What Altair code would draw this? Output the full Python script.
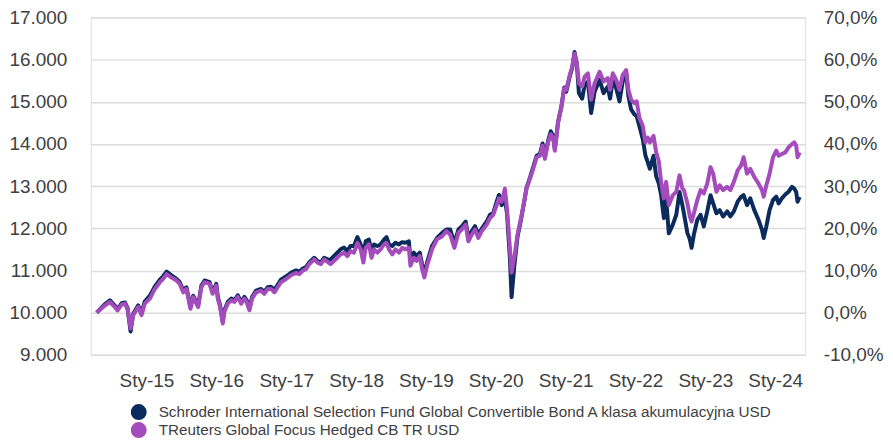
import altair as alt
import pandas as pd

FUND = "Schroder International Selection Fund Global Convertible Bond A klasa akumulacyjna USD"
BENCH = "TReuters Global Focus Hedged CB TR USD"
NAVY = "#0b2b5c"
PURPLE = "#a54cbd"

dates = [
    "2014-04-16", "2014-05-29", "2014-06-24", "2014-07-20", "2014-08-03", "2014-08-24",
    "2014-09-10", "2014-09-24", "2014-10-10", "2014-10-24", "2014-11-19", "2014-12-06",
    "2014-12-23", "2015-01-19", "2015-02-14", "2015-03-12", "2015-03-29", "2015-04-16",
    "2015-05-12", "2015-06-07", "2015-06-24", "2015-07-12", "2015-07-29", "2015-08-19",
    "2015-09-02", "2015-09-19", "2015-09-28", "2015-10-15", "2015-11-01", "2015-11-27",
    "2015-12-05", "2015-12-13", "2016-01-01", "2016-01-09", "2016-01-21", "2016-02-04",
    "2016-02-12", "2016-03-01", "2016-03-19", "2016-04-05", "2016-04-22", "2016-05-10",
    "2016-05-27", "2016-06-08", "2016-06-22", "2016-07-06", "2016-07-27", "2016-08-22",
    "2016-09-08", "2016-09-26", "2016-10-13", "2016-10-31", "2016-11-17", "2016-12-04",
    "2017-01-01", "2017-01-27", "2017-02-21", "2017-03-10", "2017-03-27", "2017-04-14",
    "2017-05-01", "2017-05-27", "2017-06-13", "2017-07-01", "2017-07-18", "2017-08-10",
    "2017-08-21", "2017-09-16", "2017-10-12", "2017-10-30", "2017-11-16", "2017-12-03",
    "2017-12-21", "2018-01-08", "2018-01-25", "2018-02-08", "2018-02-20", "2018-03-09",
    "2018-03-23", "2018-04-05", "2018-04-22", "2018-05-09", "2018-05-27", "2018-06-09",
    "2018-06-22", "2018-07-09", "2018-07-26", "2018-08-13", "2018-08-30", "2018-09-16",
    "2018-10-04", "2018-10-12", "2018-10-30", "2018-11-13", "2018-11-30", "2018-12-12",
    "2018-12-24", "2019-01-07", "2019-02-02", "2019-02-28", "2019-03-27", "2019-04-18",
    "2019-05-08", "2019-05-30", "2019-06-20", "2019-07-07", "2019-07-28", "2019-08-11",
    "2019-08-29", "2019-09-15", "2019-10-02", "2019-10-20", "2019-11-15", "2019-12-02",
    "2019-12-19", "2020-01-06", "2020-01-18", "2020-02-01", "2020-02-18", "2020-02-29",
    "2020-03-15", "2020-03-24", "2020-04-07", "2020-04-24", "2020-05-12", "2020-05-29",
    "2020-06-10", "2020-06-28", "2020-07-15", "2020-08-02", "2020-08-19", "2020-09-02",
    "2020-09-14", "2020-10-01", "2020-10-15", "2020-10-27", "2020-11-05", "2020-11-22",
    "2020-12-10", "2020-12-24", "2021-01-04", "2021-01-22", "2021-02-04", "2021-02-16",
    "2021-02-28", "2021-03-11", "2021-03-28", "2021-04-10", "2021-04-27", "2021-05-14",
    "2021-06-01", "2021-06-27", "2021-07-18", "2021-08-09", "2021-08-21", "2021-09-04",
    "2021-09-22", "2021-10-09", "2021-10-26", "2021-11-13", "2021-11-25", "2021-12-09",
    "2021-12-26", "2022-01-07", "2022-01-21", "2022-02-08", "2022-02-22", "2022-03-06",
    "2022-03-17", "2022-04-05", "2022-04-19", "2022-05-02", "2022-05-15", "2022-05-29",
    "2022-06-10", "2022-06-24", "2022-07-15", "2022-08-02", "2022-08-19", "2022-09-03",
    "2022-09-11", "2022-09-29", "2022-10-12", "2022-10-21", "2022-11-02", "2022-11-20",
    "2022-12-07", "2022-12-24", "2023-01-11", "2023-01-28", "2023-02-11", "2023-02-28",
    "2023-03-17", "2023-04-04", "2023-04-25", "2023-05-12", "2023-05-30", "2023-06-19",
    "2023-07-07", "2023-07-20", "2023-08-07", "2023-08-24", "2023-09-14", "2023-10-06",
    "2023-10-24", "2023-11-02", "2023-11-16", "2023-12-03", "2023-12-21", "2024-01-07",
    "2024-01-19", "2024-02-05", "2024-02-23", "2024-03-11", "2024-03-29", "2024-04-10",
    "2024-04-20", "2024-04-27", "2024-05-08",
]

bench = [
    10000, 10170, 10250, 10130, 10050, 10190,
    10210, 10090, 9620, 9940, 10130, 9940,
    10210, 10330, 10560, 10720, 10800, 10910,
    10830, 10760, 10680, 10480, 10560, 10090,
    10370, 10210, 10130, 10600, 10720, 10680,
    10560, 10445, 10640, 10330, 10130, 9740,
    10015, 10210, 10290, 10250, 10370, 10210,
    10330, 10250, 10055, 10330, 10480, 10520,
    10445, 10560, 10560, 10480, 10600, 10720,
    10800, 10890, 10940, 10910, 10990, 11030,
    11150, 11260, 11185, 11150, 11260, 11185,
    11150, 11265, 11380, 11420, 11340, 11460,
    11420, 11650, 11500, 11185, 11535, 11615,
    11300, 11500, 11420, 11500, 11615, 11650,
    11500, 11380, 11500, 11420, 11535, 11500,
    11535, 11110, 11300, 11225, 11340, 11030,
    10835, 11110, 11500, 11735, 11810, 11930,
    11850, 11535, 11890, 11970, 12085, 11690,
    11850, 11970, 11770, 11930, 12085, 12240,
    12320, 12550, 12710, 12630, 12940, 12470,
    11535, 10950, 11300, 11850, 12240, 12630,
    12940, 13175, 13410, 13685, 13720, 13960,
    13645, 14035, 14230, 14150, 13840, 14500,
    14890, 15320, 15285, 15635, 15830, 16145,
    15910, 15440, 15360, 15595, 15675, 15050,
    15440, 15710, 15480, 15560, 15285, 15675,
    15520, 15285, 15635, 15750, 15285, 15050,
    14970, 15010, 14620, 14425, 14035, 14150,
    14035, 14190, 13800, 13605, 13100, 12710,
    13100, 12550, 12785, 12860, 13255, 12940,
    12905, 12590, 12280, 12160, 12355, 12670,
    12905, 12825, 13060, 13450, 13295, 12865,
    13020, 12905, 12980, 12905, 13100, 13370,
    13490, 13685, 13295, 13410, 13215, 13060,
    12905, 12750, 13020, 13295, 13685, 13840,
    13720, 13760, 13800, 13920, 13995, 14035,
    13960, 13685, 13800,
]

fund = [
    10000, 10200, 10290, 10160, 10080, 10220,
    10240, 10110, 9550, 9970, 10170, 9980,
    10260, 10400, 10620, 10780, 10860, 10970,
    10880, 10800, 10720, 10530, 10600, 10130,
    10400, 10240, 10160, 10640, 10760, 10720,
    10600, 10480, 10680, 10370, 10170, 9780,
    10050, 10250, 10330, 10290, 10410, 10250,
    10370, 10290, 10090, 10370, 10520, 10560,
    10490, 10600, 10610, 10540, 10660, 10780,
    10860, 10950, 11000, 10960, 11040, 11080,
    11190, 11300, 11220, 11190, 11300, 11250,
    11260, 11380, 11500, 11540, 11460, 11580,
    11580, 11790, 11615, 11340, 11690, 11730,
    11460, 11615, 11580, 11615, 11730, 11790,
    11615, 11580, 11655, 11615, 11670, 11655,
    11690, 11265, 11420, 11340, 11420, 11150,
    10910, 11185, 11580, 11770, 11890, 11970,
    11970, 11650, 11970, 12040, 12160, 11770,
    11930, 12050, 11850, 11990, 12160, 12320,
    12360, 12630, 12790, 12550, 12700, 12350,
    11300, 10365, 11100, 11800, 12200, 12630,
    12960, 13200, 13450, 13720, 13760, 14010,
    13690, 14080, 14300, 14190, 13880, 14520,
    14900, 15340, 15240, 15600, 15800, 16180,
    15900, 15205, 15075, 15400, 15480, 14735,
    15240, 15520, 15205, 15360, 15075, 15520,
    15320, 15010, 15480, 15675, 15130, 14820,
    14700, 14660, 14425, 14110, 13720, 13565,
    13410, 13720, 13230, 13075, 12785, 12240,
    12700, 11880, 12085, 12320, 12860, 12550,
    12355, 11890, 11735, 11535, 11850, 12200,
    12320, 12045, 12400, 12785, 12590, 12355,
    12430, 12280, 12400, 12280, 12400, 12630,
    12745, 12785, 12550, 12710, 12430, 12200,
    11965, 11770, 12045, 12435, 12670, 12750,
    12590, 12710, 12800, 12865, 12980, 12940,
    12860, 12630, 12745,
]

left_ticks = [9000, 10000, 11000, 12000, 13000, 14000, 15000, 16000, 17000]
right_ticks = [-10, 0, 10, 20, 30, 40, 50, 60, 70]
year_ticks = [2015, 2016, 2017, 2018, 2019, 2020, 2021, 2022, 2023, 2024]

n = len(dates)
df = pd.DataFrame({
    "date": dates + dates,
    "series": [FUND] * n + [BENCH] * n,
    "value": fund + bench,
})

FONT = "Liberation Sans"
LABEL_COLOR = "#404040"

x_enc = alt.X(
    "date:T",
    scale=alt.Scale(domain=[alt.DateTime(year=2014, month=3, date=16),
                            alt.DateTime(year=2024, month=6, date=6)]),
    axis=alt.Axis(
        values=[alt.DateTime(year=y, month=1, date=1) for y in year_ticks],
        labelExpr="'Sty-' + timeFormat(datum.value, '%y')",
        title=None, grid=False, ticks=False, domain=False,
        labelPadding=17, labelFontSize=19, labelFont=FONT, labelColor=LABEL_COLOR,
    ),
)

y_left = alt.Y(
    "value:Q",
    scale=alt.Scale(domain=[9000, 17000], nice=False, zero=False),
    axis=alt.Axis(
        values=left_ticks,
        labelExpr="replace(format(datum.value, ','), ',', '.')",
        title=None, ticks=False, domain=False,
        gridColor="#dcdcdc", gridWidth=1.5,
        labelPadding=24, labelFontSize=19, labelFont=FONT, labelColor=LABEL_COLOR,
    ),
)

color_enc = alt.Color(
    "series:N",
    scale=alt.Scale(domain=[FUND, BENCH], range=[NAVY, PURPLE]),
    legend=alt.Legend(
        title=None, orient="none", legendX=40, legendY=387,
        direction="vertical", columns=1,
        symbolType="circle", symbolSize=64, symbolStrokeWidth=8,
        labelFontSize=15.3, labelFont=FONT, labelColor=LABEL_COLOR,
        labelLimit=1000, rowPadding=1, labelOffset=12, clipHeight=17,
    ),
)

base = alt.Chart(df)

navy_line = base.transform_filter(alt.datum.series == FUND).mark_line(
    strokeWidth=4, strokeJoin="round"
).encode(x=x_enc, y=y_left, color=color_enc)

purple_line = base.transform_filter(alt.datum.series == BENCH).mark_line(
    strokeWidth=4, strokeJoin="round"
).encode(x=x_enc, y=y_left, color=color_enc)

right_axis = base.transform_filter(alt.datum.series == FUND).transform_calculate(
    pct="datum.value / 100 - 100"
).mark_line(opacity=0).encode(
    x=x_enc,
    y=alt.Y(
        "pct:Q",
        scale=alt.Scale(domain=[-10, 70], nice=False, zero=False),
        axis=alt.Axis(
            orient="right", values=right_ticks,
            labelExpr="(datum.value < 0 ? '-' : '') + replace(format(abs(datum.value), '.1f'), '.', ',') + '%'",
            title=None, ticks=False, domain=False, grid=False,
            labelPadding=18, labelFontSize=19, labelFont=FONT, labelColor=LABEL_COLOR,
        ),
    ),
)

chart = alt.layer(
    alt.layer(navy_line, purple_line),
    right_axis,
).resolve_scale(y="independent").properties(
    width=716, height=338,
    padding={"left": 83, "right": 80, "top": 9, "bottom": 85},
    autosize=alt.AutoSizeParams(type="none"),
).configure_view(stroke=None).configure(background="white")

chart.save("out.html", embed_options={"renderer": "svg", "actions": False})
